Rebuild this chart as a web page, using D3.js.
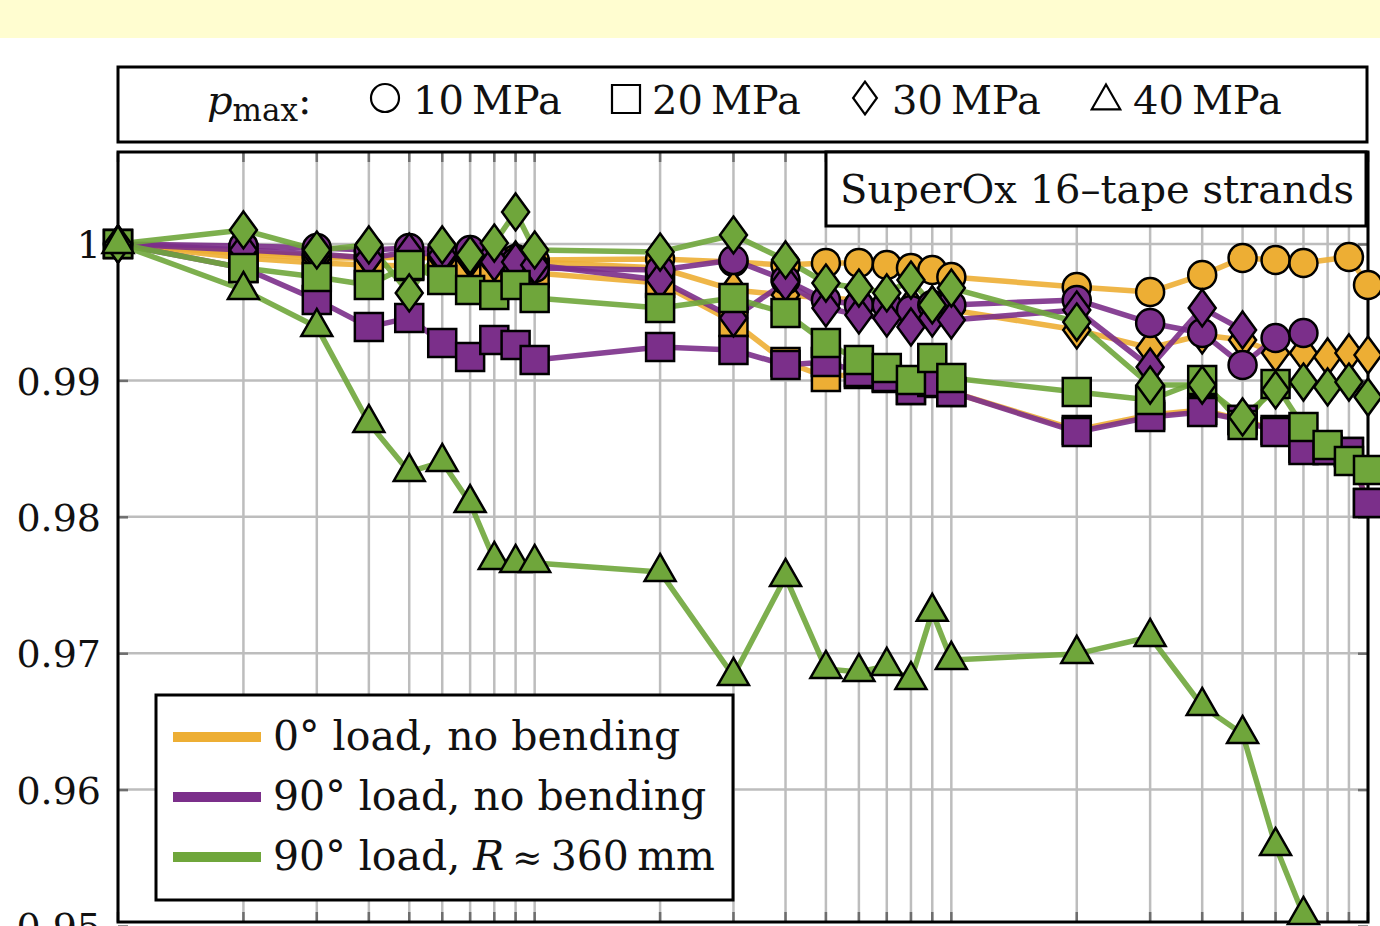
<!DOCTYPE html>
<html lang="en">
<head>
<meta charset="UTF-8">
<title>SuperOx 16-tape strands</title>
<script src="https://d3js.org/d3.v7.min.js"></script>
<style>
    body { margin: 0; background: #fff; }
    svg { display: block; font-family: "DejaVu Serif", serif; }
</style>
</head>
<body>
<svg id="chart"></svg>
<script>
// load cycles (x) and normalised values, null = no point
const cycles = [1, 2, 3, 4, 5, 6, 7, 8, 9, 10, 20, 30, 40, 50, 60, 70, 80, 90, 100, 200, 300, 400, 500, 600, 700, 800, 900, 1000];

const orangeCircle = [1.0, 0.99941, 0.99912, 0.99905, 0.99905, 0.99897, 0.99897, 0.9989, 0.9989, 0.99883, 0.9989, 0.99868, 0.99846, 0.99861, 0.99861, 0.99846, 0.99824, 0.99809, 0.99758, 0.99685, 0.99648, 0.99773, 0.99897, 0.99883, 0.99861, null, 0.99905, 0.99699];
const orangeSquare = [1.0, 0.99897, 0.99861, 0.99846, 0.99839, 0.99824, 0.99809, 0.99802, 0.99795, 0.99787, 0.99714, 0.99428, 0.99135, 0.99025, 0.99047, 0.99018, 0.9893, 0.98981, 0.98915, 0.98637, 0.98747, 0.98783, 0.9871, 0.98637, 0.98505, 0.9849, 0.98475, 0.98102];
const orangeDiamond = [1.0, 0.99927, 0.99897, 0.99897, 0.99905, 0.99897, 0.9989, 0.99883, 0.99883, 0.99868, 0.99824, 0.99663, 0.99626, 0.99604, 0.9959, 0.99575, 0.99553, 0.99553, 0.99516, 0.9937, 0.99238, 0.99333, 0.99296, 0.99201, 0.99201, 0.99172, 0.99201, 0.99186];

const purpleCircle = [1.0, 0.99985, 0.99971, 0.99956, 0.99971, 0.99956, 0.99956, 0.99897, 0.99868, 0.99824, 0.99809, 0.99883, 0.99736, 0.9959, 0.99553, 0.99553, 0.99516, 0.99553, 0.99553, 0.9959, 0.99421, 0.99348, 0.99113, 0.99311, 0.99348, null, null, null];
const purpleSquare = [1.0, 0.99824, 0.9959, 0.99392, 0.99458, 0.99274, 0.99172, 0.99296, 0.9926, 0.9915, 0.99245, 0.99223, 0.99113, 0.99135, 0.99062, 0.99025, 0.9893, 0.98988, 0.98915, 0.98622, 0.98732, 0.98768, 0.9871, 0.98622, 0.9849, 0.9849, 0.98475, 0.98102];
const purpleDiamond = [1.0, 0.99956, 0.99927, 0.99897, 0.99941, 0.99919, 0.99897, 0.99868, 0.99868, 0.99846, 0.99736, 0.99458, 0.99721, 0.99531, 0.9948, 0.99458, 0.99392, 0.99458, 0.99443, 0.99516, 0.99098, 0.99531, 0.9937, null, null, null, null, null];

const greenSquare = [1.0, 0.99824, 0.99758, 0.99699, 0.99846, 0.99736, 0.99663, 0.99626, 0.99699, 0.99604, 0.99531, 0.99604, 0.99494, 0.99274, 0.9915, 0.99091, 0.99003, 0.99164, 0.99018, 0.98915, 0.98856, 0.99003, 0.98673, 0.98974, 0.98659, 0.98527, 0.98409, 0.98343];
const greenDiamond = [1.0, 1.00103, 0.99956, 0.99993, 0.99641, 0.99993, 0.99919, 1.00007, 1.00235, 0.99956, 0.99941, 1.00066, 0.99883, 0.99714, 0.99677, 0.99641, 0.99736, 0.99553, 0.99677, 0.99428, 0.98966, 0.98966, 0.98732, 0.9893, 0.98988, 0.98952, 0.98988, 0.98878];
const greenTriangle = [1.0, 0.99663, 0.99392, 0.98688, 0.98329, 0.98402, 0.98101, 0.97684, 0.97662, 0.97662, 0.97596, 0.96833, 0.97559, 0.96885, 0.96863, 0.96907, 0.96804, 0.97303, 0.96951, 0.96995, 0.97119, 0.96613, 0.96408, 0.95587, 0.95081, null, null, null];

const yTicks = [0.95, 0.96, 0.97, 0.98, 0.99, 1];
const yTickLabels = ["0.95", "0.96", "0.97", "0.98", "0.99", "1"];

const pressureLabels = ["10\u2009MPa", "20\u2009MPa", "30\u2009MPa", "40\u2009MPa"];
const pressureShapes = ["circle", "square", "diamond", "triangle"];
const loadLabels = ["0° load, no bending", "90° load, no bending", "90° load, "];
const colors = { orange: "#edae34", purple: "#7b2f8a", green: "#6fa63b" };

// drawing order: orange, purple, green (later ones on top)
const series = [
    { color: colors.orange, shape: "circle", values: orangeCircle },
    { color: colors.orange, shape: "square", values: orangeSquare },
    { color: colors.orange, shape: "diamond", values: orangeDiamond },
    { color: colors.purple, shape: "circle", values: purpleCircle },
    { color: colors.purple, shape: "square", values: purpleSquare },
    { color: colors.purple, shape: "diamond", values: purpleDiamond },
    { color: colors.green, shape: "square", values: greenSquare },
    { color: colors.green, shape: "diamond", values: greenDiamond },
    { color: colors.green, shape: "triangle", values: greenTriangle }
];

const width = 1380, height = 926;
const plot = { left: 118, right: 1368, top: 152, bottom: 922 };

const svg = d3.select("#chart").attr("width", width).attr("height", height);

const x = d3.scaleLog().domain([1, 1000]).range([plot.left, plot.right]);
const y = d3.scaleLinear().domain([0.95, 1]).range([926, 244]);

// marker outlines, k scales the size
function markerPath(shape, k) {
    if (shape === "circle") {
        const r = 14 * k;
        return `M${r},0A${r},${r} 0 1,1 ${-r},0A${r},${r} 0 1,1 ${r},0Z`;
    }
    if (shape === "square") {
        const s = 14 * k;
        return `M${-s},${-s}H${s}V${s}H${-s}Z`;
    }
    if (shape === "diamond") {
        const w = 13.5 * k, h = 18.5 * k;
        return `M0,${-h}L${w},0L0,${h}L${-w},0Z`;
    }
    const w = 15.5 * k, h = 27 * k;
    return `M0,${-2 * h / 3}L${w},${h / 3}L${-w},${h / 3}Z`;
}

// pale yellow band at the top
svg.append("rect").attr("x", 0).attr("y", 0).attr("width", width).attr("height", 38)
    .attr("fill", "#fffdd0");

// grid
const grid = svg.append("g").attr("stroke", "#bdbdbd").attr("stroke-width", 2.5);
grid.selectAll(".vgrid").data(x.ticks()).enter().append("line")
    .attr("x1", d => x(d)).attr("x2", d => x(d))
    .attr("y1", plot.top).attr("y2", plot.bottom);
grid.selectAll(".hgrid").data(yTicks.filter(d => y(d) < plot.bottom)).enter().append("line")
    .attr("x1", plot.left).attr("x2", plot.right)
    .attr("y1", d => y(d)).attr("y2", d => y(d));

// inner ticks
const ticks = svg.append("g").attr("stroke", "#6e6e6e").attr("stroke-width", 2.5);
x.ticks().forEach(t => {
    ticks.append("line").attr("x1", x(t)).attr("x2", x(t)).attr("y1", plot.bottom).attr("y2", plot.bottom - 10);
    ticks.append("line").attr("x1", x(t)).attr("x2", x(t)).attr("y1", plot.top).attr("y2", plot.top + 10);
});

// y axis labels via d3 axis
const yAxis = d3.axisLeft(y).tickValues(yTicks)
    .tickFormat((d, i) => yTickLabels[i])
    .tickSizeInner(-10).tickSizeOuter(0).tickPadding(17);
const yAxisG = svg.append("g").attr("transform", `translate(${plot.left},0)`).call(yAxis);
yAxisG.select(".domain").remove();
yAxisG.attr("font-family", "DejaVu Serif, serif").attr("font-size", 38);
yAxisG.selectAll("line").attr("stroke", "#6e6e6e").attr("stroke-width", 2.5);
yAxisG.selectAll("text").attr("fill", "#111").attr("dy", "0.36em");
const yAxisR = d3.axisRight(y).tickValues(yTicks).tickFormat("").tickSizeInner(-10).tickSizeOuter(0);
const yAxisRG = svg.append("g").attr("transform", `translate(${plot.right},0)`).call(yAxisR);
yAxisRG.select(".domain").remove();
yAxisRG.selectAll("line").attr("stroke", "#6e6e6e").attr("stroke-width", 2.5);

// frame
svg.append("rect").attr("x", plot.left).attr("y", plot.top)
    .attr("width", plot.right - plot.left).attr("height", plot.bottom - plot.top)
    .attr("fill", "none").attr("stroke", "#000").attr("stroke-width", 3);

// lines
const line = d3.line().x(d => x(d[0])).y(d => y(d[1]));
series.forEach(s => {
    const pts = cycles.map((c, i) => [c, s.values[i]]).filter(d => d[1] !== null);
    s.pts = pts;
    svg.append("path").datum(pts)
        .attr("d", line)
        .attr("fill", "none")
        .attr("stroke", s.color)
        .attr("stroke-width", 5.5)
        .attr("stroke-opacity", 0.9)
        .attr("stroke-linejoin", "round");
});

// markers
series.forEach(s => {
    svg.append("g").selectAll("path").data(s.pts).enter().append("path")
        .attr("transform", d => `translate(${x(d[0])},${y(d[1])})`)
        .attr("d", markerPath(s.shape, 1))
        .attr("fill", s.color)
        .attr("stroke", "#000")
        .attr("stroke-width", 2.5)
        .attr("stroke-linejoin", "miter");
});

// title box
svg.append("rect").attr("x", 826).attr("y", 152).attr("width", 540).attr("height", 74)
    .attr("fill", "#fff").attr("stroke", "#000").attr("stroke-width", 3);
svg.append("text").attr("x", 840).attr("y", 203).attr("font-size", 40).attr("fill", "#111")
    .text("SuperOx 16\u2013tape strands");

// pressure legend on top
svg.append("rect").attr("x", 118).attr("y", 67).attr("width", 1249).attr("height", 75)
    .attr("fill", "#fff").attr("stroke", "#000").attr("stroke-width", 3);
const pText = svg.append("text").attr("x", 207).attr("y", 114).attr("font-size", 40).attr("fill", "#111");
pText.append("tspan").attr("font-style", "italic").text("p");
pText.append("tspan").attr("font-size", 31).attr("dy", 7).text("max");
pText.append("tspan").attr("dy", -7).text(":");
const legendMarkX = [385, 626, 865, 1106];
const legendMarkY = [98, 99, 98, 101];
const legendTextX = [413, 652, 892, 1133];
pressureShapes.forEach((sh, i) => {
    svg.append("path").attr("transform", `translate(${legendMarkX[i]},${legendMarkY[i]})`)
        .attr("d", markerPath(sh, sh === "triangle" ? 0.92 : sh === "diamond" ? 0.88 : 1))
        .attr("fill", "#fff").attr("stroke", "#000").attr("stroke-width", 2.2);
    svg.append("text").attr("x", legendTextX[i]).attr("y", 114).attr("font-size", 40)
        .attr("fill", "#111").text(pressureLabels[i]);
});

// load legend, bottom left
svg.append("rect").attr("x", 156).attr("y", 695).attr("width", 577).attr("height", 205)
    .attr("fill", "#fff").attr("stroke", "#000").attr("stroke-width", 3);
const legendColors = [colors.orange, colors.purple, colors.green];
legendColors.forEach((c, i) => {
    const cy = 737 + i * 60;
    svg.append("line").attr("x1", 173).attr("x2", 261).attr("y1", cy).attr("y2", cy)
        .attr("stroke", c).attr("stroke-width", 10);
    const t = svg.append("text").attr("x", 273).attr("y", cy + 13).attr("font-size", 41).attr("fill", "#111");
    t.append("tspan").text(loadLabels[i]);
    if (i === 2) {
        t.append("tspan").attr("font-style", "italic").text("R");
        t.append("tspan").text("\u2009");
        t.append("tspan").attr("font-size", 36).text("\u2248");
        t.append("tspan").text("\u2009360\u2009mm");
    }
});
</script>
</body>
</html>
